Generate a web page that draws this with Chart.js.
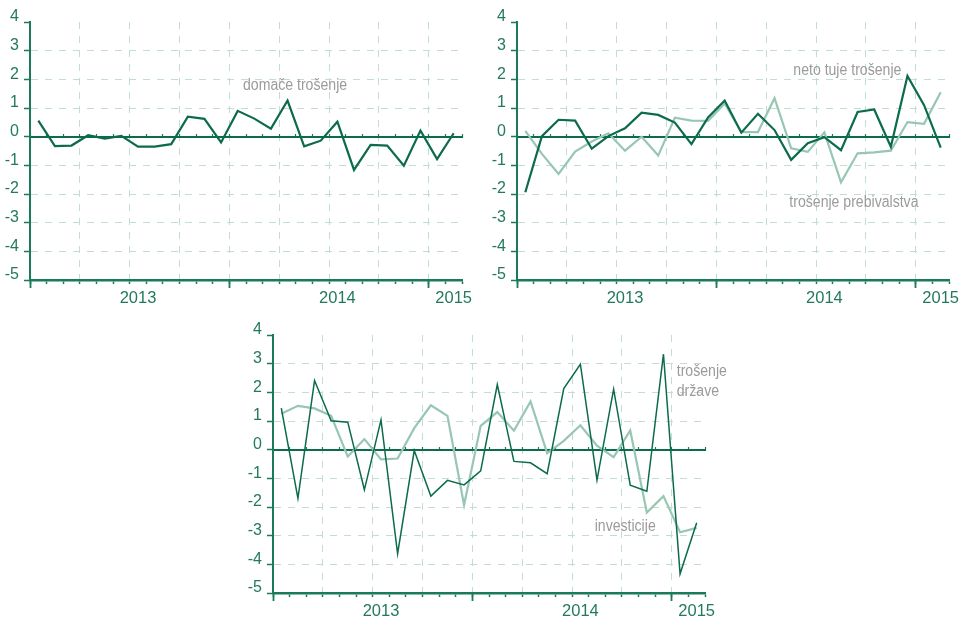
<!DOCTYPE html>
<html><head><meta charset="utf-8">
<script src="https://cdn.jsdelivr.net/npm/chart.js@4.4.1/dist/chart.umd.min.js"></script>
<style>
html,body{margin:0;padding:0;background:#fff;overflow:hidden;width:965px;height:620px;}
canvas{position:absolute;}
#c1{left:0;top:0;}
#c2{left:487px;top:0;}
#c3{left:243px;top:313px;}
</style></head><body>
<canvas id="c1" width="480" height="310"></canvas>
<canvas id="c2" width="478" height="310"></canvas>
<canvas id="c3" width="500" height="307"></canvas>
<script>
// ---- data ----
const months = ['jan 13','feb 13','mar 13','apr 13','maj 13','jun 13','jul 13','avg 13','sep 13','okt 13','nov 13','dec 13',
                'jan 14','feb 14','mar 14','apr 14','maj 14','jun 14','jul 14','avg 14','sep 14','okt 14','nov 14','dec 14',
                'jan 15','feb 15'];
const yearTickLabels = ['2013','2014','2015'];
const yearTickIndex = [6, 18, 25];
const yearBoundaryIndex = [0, 12, 24];
const yMin = -5, yMax = 4;

const domaceTrosenje = [0.56,-0.33,-0.31,0.05,-0.07,0.03,-0.35,-0.35,-0.26,0.70,0.62,-0.20,0.90,0.63,0.28,1.26,-0.34,-0.14,0.52,-1.16,-0.29,-0.31,-1.01,0.21,-0.78,0.12];
const netoTujeTrosenje = [-1.94,0.02,0.59,0.56,-0.42,0.02,0.29,0.84,0.76,0.49,-0.26,0.67,1.26,0.14,0.80,0.23,-0.81,-0.23,-0.02,-0.47,0.86,0.95,-0.35,2.12,1.10,-0.38];
const trosenjePrebivalstva = [0.20,-0.60,-1.30,-0.52,-0.17,0.12,-0.49,0.00,-0.66,0.66,0.56,0.55,1.16,0.16,0.16,1.34,-0.41,-0.53,0.15,-1.59,-0.58,-0.55,-0.49,0.51,0.45,1.55];
const investicije = [1.45,-1.70,2.41,1.01,0.96,-1.40,1.04,-3.63,-0.03,-1.62,-1.07,-1.23,-0.74,2.27,-0.41,-0.46,-0.84,2.13,2.98,-1.06,2.11,-1.24,-1.45,3.33,-4.33,-2.55];
const trosenjeDrzave = [1.25,1.53,1.44,1.18,-0.24,0.37,-0.34,-0.31,0.75,1.55,1.18,-1.93,0.83,1.31,0.66,1.68,-0.12,0.31,0.85,0.14,-0.26,0.67,-2.19,-1.62,-2.88,-2.73];

// ---- styles ----
const DARK = '#0b6b4b', LIGHT = '#97c6b2', AXIS = '#1a7a5a', LABEL = '#237a5b', GRID = '#c2ddd2', NOTE = '#9b9b9b';
const TICK_FONT = {family: '"Liberation Sans", Arial, sans-serif', size: 16.5};
const YTICK_FONT = {family: '"Liberation Sans", Arial, sans-serif', size: 16};
const NOTE_FONT = '16px "Liberation Sans", Arial, sans-serif';
const NOTE_SQUEEZE = 0.88;

const seriesLabels = {
  id: 'seriesLabels',
  afterDatasetsDraw(chart, args, opts) {
    const {ctx} = chart; const x = chart.scales.x, y = chart.scales.y;
    (opts.items || []).forEach(it => {
      ctx.save();
      ctx.font = NOTE_FONT; ctx.fillStyle = NOTE; ctx.textBaseline = 'middle'; ctx.textAlign = 'left';
      ctx.translate(x.getPixelForValue(it.x), y.getPixelForValue(it.y));
      ctx.scale(NOTE_SQUEEZE, 1);
      ctx.fillText(it.text, 0, 0);
      ctx.restore();
    });
  }
};

function zeroPad(s) { s.paddingLeft = 0; s.paddingRight = 0; s.paddingTop = 0; s.paddingBottom = 0; }

function makeChart(id, datasets, notes, padRight, xHeight) {
  return new Chart(document.getElementById(id), {
    type: 'line',
    data: {labels: months, datasets},
    options: {
      responsive: false, animation: false, events: [],
      layout: {padding: {top: 22, left: 0, right: padRight, bottom: 0}},
      plugins: {legend: {display: false}, tooltip: {enabled: false}, seriesLabels: {items: notes}},
      elements: {point: {radius: 0}, line: {tension: 0, borderJoinStyle: 'miter'}},
      scales: {
        x: {
          type: 'category', offset: true, position: 'bottom',
          grid: {
            offset: true, lineWidth: 1, tickLength: 4, tickWidth: 1.5, tickColor: AXIS,
            color: c => (c.index % 3 === 0 && c.index > 0 && c.index < months.length) ? GRID : 'rgba(0,0,0,0)'
          },
          border: {display: true, color: AXIS, width: 2.5, dash: [7, 7]},
          ticks: {
            autoSkip: false, maxRotation: 0, minRotation: 0, color: LABEL, font: TICK_FONT, padding: 5,
            callback: (v, i) => { const k = yearTickIndex.indexOf(i); return k >= 0 ? yearTickLabels[k] : ''; }
          },
          afterFit: s => { s.height = xHeight; zeroPad(s); }
        },
        xMajor: {
          type: 'category', offset: true, position: {y: yMin},
          grid: {
            offset: true, drawOnChartArea: false, tickLength: 8, tickWidth: 1.8,
            tickColor: c => yearBoundaryIndex.includes(c.index) ? AXIS : 'rgba(0,0,0,0)'
          },
          border: {display: false},
          ticks: {display: false, autoSkip: false},
          afterFit: s => { zeroPad(s); }
        },
        xZero: {
          type: 'category', offset: true, position: {y: 0},
          grid: {offset: true, drawOnChartArea: false, tickLength: -4, tickWidth: 1.2, tickColor: AXIS},
          border: {display: true, color: DARK, width: 2},
          ticks: {display: false, autoSkip: false},
          afterFit: s => { zeroPad(s); }
        },
        y: {
          type: 'linear', min: yMin, max: yMax, position: 'left',
          grid: {
            lineWidth: 1, tickLength: 6, tickWidth: 1.5, tickColor: AXIS,
            color: c => (c.tick && c.tick.value > yMin && c.tick.value < yMax && c.tick.value !== 0) ? GRID : 'rgba(0,0,0,0)'
          },
          border: {display: true, color: AXIS, width: 2, dash: [7, 7]},
          ticks: {stepSize: 1, color: LABEL, font: YTICK_FONT, padding: 5, labelOffset: -5},
          afterFit: s => { s.width = 30; zeroPad(s); }
        }
      }
    },
    plugins: [seriesLabels]
  });
}

makeChart('c1', [
  {label: 'domače trošenje', data: domaceTrosenje, borderColor: DARK, borderWidth: 2.2}
], [
  {text: 'domače trošenje', x: 12.32, y: 1.77}
], 18, 30);

makeChart('c2', [
  {label: 'neto tuje trošenje', data: netoTujeTrosenje, borderColor: DARK, borderWidth: 2.2},
  {label: 'trošenje prebivalstva', data: trosenjePrebivalstva, borderColor: LIGHT, borderWidth: 2.2}
], [
  {text: 'neto tuje trošenje', x: 16.13, y: 2.32},
  {text: 'trošenje prebivalstva', x: 15.89, y: -2.31}
], 16, 30);

makeChart('c3', [
  {label: 'investicije', data: investicije, borderColor: DARK, borderWidth: 1.5},
  {label: 'trošenje države', data: trosenjeDrzave, borderColor: LIGHT, borderWidth: 2.2}
], [
  {text: 'trošenje', x: 23.8, y: 2.72},
  {text: 'države', x: 23.8, y: 2.02},
  {text: 'investicije', x: 18.86, y: -2.68}
], 38, 27);
</script>
</body></html>
